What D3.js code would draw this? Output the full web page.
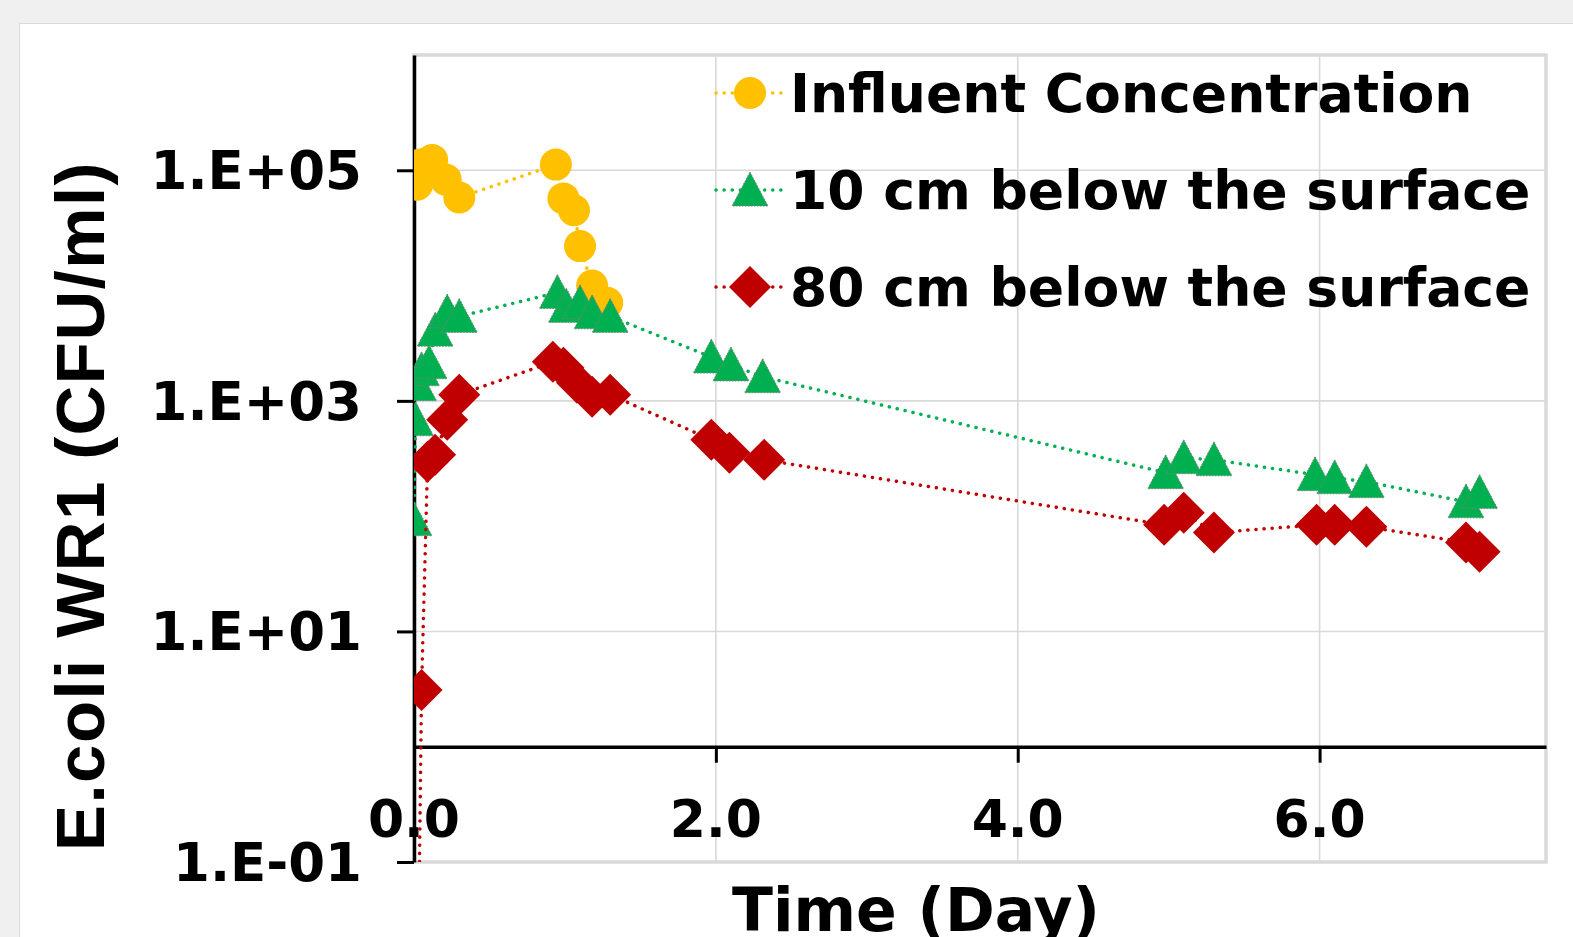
<!DOCTYPE html>
<html lang="en">
<head>
<meta charset="UTF-8">
<title>E.coli WR1</title>
<script src="https://d3js.org/d3.v7.min.js"></script>
<style>
  html, body { margin: 0; padding: 0; background: #f0f0f0; }
  svg { display: block; }
</style>
</head>
<body>
<div id="chart"></div>
<script>
// values
const influentDays   = [0.02, 0.04, 0.12, 0.21, 0.30, 0.94, 0.99, 1.06, 1.10, 1.18, 1.28];
const influentValues = [75000, 112000, 123000, 83000, 58000, 112000, 57000, 45000, 22000, 10000, 7100];

const shallowDays   = [0.00, 0.01, 0.03, 0.05, 0.10, 0.14, 0.22, 0.30, 0.95, 1.01, 1.10, 1.18, 1.30, 1.97, 2.10, 2.31, 4.98, 5.10, 5.30, 5.97, 6.10, 6.31, 6.97, 7.06];
const shallowValues = [93, 685, 1380, 1860, 2140, 4100, 5900, 5400, 8700, 6600, 7100, 5800, 5400, 2400, 2050, 1620, 238, 321, 308, 229, 215, 199, 133, 160];

const deepDays   = [0.00, 0.05, 0.09, 0.14, 0.22, 0.30, 0.92, 0.99, 1.08, 1.18, 1.30, 1.97, 2.09, 2.32, 4.97, 5.10, 5.30, 5.98, 6.10, 6.31, 6.97, 7.06];
const deepValues = [0.00001, 3.1, 297, 340, 686, 1130, 2180, 1940, 1435, 1085, 1130, 460, 355, 308, 84, 107, 72, 84, 84, 81, 59, 49];

const seriesNames = ["Influent Concentration", "10 cm below the surface", "80 cm below the surface"];
const seriesColors = ["#FFC000", "#00B050", "#C00000"];

const xTicks = [0, 2, 4, 6];
const xTickLabels = ["0.0", "2.0", "4.0", "6.0"];
const yTicks = [0.1, 10, 1000, 100000];
const yTickLabels = ["1.E-01", "1.E+01", "1.E+03", "1.E+05"];

const W = 1573, H = 937;
const plot = { left: 414, right: 1546, top: 55, bottom: 862 };

const svg = d3.select("#chart").append("svg")
  .attr("width", W).attr("height", H);

// white chart panel
svg.append("rect")
  .attr("x", 19.5).attr("y", 23.5)
  .attr("width", W).attr("height", H)
  .attr("fill", "#fff").attr("stroke", "#d9d9d9").attr("stroke-width", 1);

const x = d3.scaleLinear().domain([0, 7.5]).range([plot.left, plot.right]);
const y = d3.scaleLog().domain([0.1, 1e6]).range([plot.bottom, plot.top]);

// gridlines
svg.append("g").selectAll("line")
  .data(yTicks.slice(1))
  .join("line")
  .attr("x1", plot.left).attr("x2", plot.right)
  .attr("y1", d => y(d)).attr("y2", d => y(d))
  .attr("stroke", "#d9d9d9").attr("stroke-width", 1.6);

svg.append("g").selectAll("line")
  .data(xTicks.slice(1))
  .join("line")
  .attr("x1", d => x(d)).attr("x2", d => x(d))
  .attr("y1", plot.top).attr("y2", plot.bottom)
  .attr("stroke", "#d9d9d9").attr("stroke-width", 1.6);

// plot area border
svg.append("rect")
  .attr("x", plot.left).attr("y", plot.top)
  .attr("width", plot.right - plot.left).attr("height", plot.bottom - plot.top)
  .attr("fill", "none").attr("stroke", "#dad8da").attr("stroke-width", 3.5);

// x axis crossing at 1
const xAxisY = y(1);
const xAxis = d3.axisBottom(x).tickValues(xTicks.slice(1)).tickSize(16).tickSizeOuter(0).tickFormat("");
svg.append("g")
  .attr("transform", `translate(0,${xAxisY})`)
  .call(xAxis)
  .call(g => g.select(".domain").attr("stroke", "#000").attr("stroke-width", 3.5))
  .call(g => g.selectAll(".tick line").attr("stroke", "#000").attr("stroke-width", 3));

svg.append("g").selectAll("text")
  .data(xTicks)
  .join("text")
  .attr("x", d => x(d)).attr("y", 837)
  .attr("text-anchor", "middle")
  .attr("font-family", "DejaVu Sans").attr("font-weight", "bold").attr("font-size", 52)
  .text((d, i) => xTickLabels[i]);

// y axis
const yAxis = d3.axisLeft(y).tickValues(yTicks).tickSize(17).tickSizeOuter(0).tickFormat("");
svg.append("g")
  .attr("transform", `translate(${plot.left},0)`)
  .call(yAxis)
  .call(g => g.select(".domain").attr("stroke", "#000").attr("stroke-width", 3.5))
  .call(g => g.selectAll(".tick line").attr("stroke", "#000").attr("stroke-width", 3));

svg.append("g").selectAll("text")
  .data(yTicks)
  .join("text")
  .attr("x", 362).attr("y", d => y(d) + 19)
  .attr("text-anchor", "end")
  .attr("font-family", "DejaVu Sans").attr("font-weight", "bold").attr("font-size", 53)
  .text((d, i) => yTickLabels[i]);

// axis titles
svg.append("text")
  .attr("x", 916).attr("y", 931)
  .attr("text-anchor", "middle")
  .attr("font-family", "DejaVu Sans").attr("font-weight", "bold").attr("font-size", 60)
  .text("Time (Day)");

svg.append("text")
  .attr("transform", "translate(104,506) rotate(-90)")
  .attr("text-anchor", "middle")
  .attr("font-family", "Liberation Sans").attr("font-weight", "bold").attr("font-size", 69)
  .attr("letter-spacing", 1.4)
  .text("E.coli WR1 (CFU/ml)");

// markers
const symbols = [
  (g, c) => g.append("circle").attr("r", 16).attr("fill", c),
  (g, c) => g.append("path")
      .attr("d", "M0,-18 L18,16 L-18,16 Z")
      .attr("fill", c).attr("stroke", "#7f7f7f").attr("stroke-width", 1).attr("stroke-dasharray", "1.5,1.5"),
  (g, c) => g.append("path")
      .attr("d", "M0,-21 L21,0 L0,21 L-21,0 Z")
      .attr("fill", c)
];

svg.append("clipPath").attr("id", "plotclip")
  .append("rect")
  .attr("x", plot.left).attr("y", plot.top)
  .attr("width", plot.right - plot.left).attr("height", plot.bottom - plot.top);

const series = [
  { days: influentDays, values: influentValues },
  { days: shallowDays, values: shallowValues },
  { days: deepDays, values: deepValues }
];

const line = d3.line().x(d => x(d[0])).y(d => y(d[1]));
const dotted = { width: 3.5, dash: "0.1,8" };

const layer = svg.append("g").attr("clip-path", "url(#plotclip)");
series.forEach((s, i) => {
  const pts = s.days.map((d, k) => [d, s.values[k]]);
  layer.append("path")
    .attr("d", line(pts))
    .attr("fill", "none")
    .attr("stroke", seriesColors[i])
    .attr("stroke-width", dotted.width)
    .attr("stroke-linecap", "round")
    .attr("stroke-dasharray", dotted.dash);
  pts.forEach(p => {
    const g = layer.append("g").attr("transform", `translate(${x(p[0])},${y(p[1])})`);
    symbols[i](g, seriesColors[i]);
  });
});

// legend
const legendRows = [93, 190, 287];
seriesNames.forEach((name, i) => {
  const ly = legendRows[i];
  svg.append("line")
    .attr("x1", 716).attr("x2", 784).attr("y1", ly).attr("y2", ly)
    .attr("stroke", seriesColors[i]).attr("stroke-width", dotted.width)
    .attr("stroke-linecap", "round").attr("stroke-dasharray", dotted.dash);
  const g = svg.append("g").attr("transform", `translate(750,${ly})`);
  symbols[i](g, seriesColors[i]);
  svg.append("text")
    .attr("x", 790).attr("y", ly + 19)
    .attr("font-family", "DejaVu Sans").attr("font-weight", "bold").attr("font-size", 53.6)
    .text(name);
});
</script>
</body>
</html>
